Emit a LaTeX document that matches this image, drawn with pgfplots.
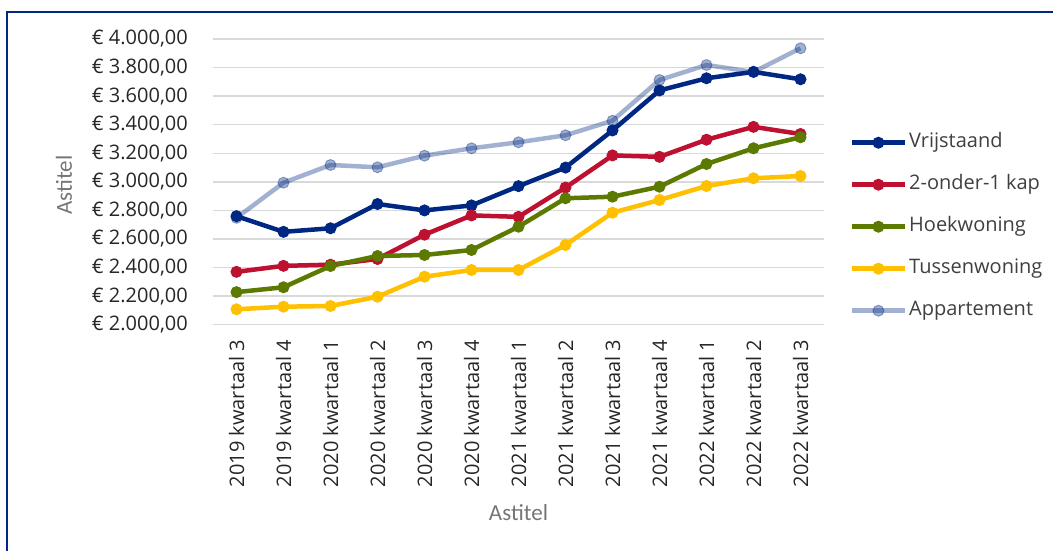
\documentclass[border=0pt]{standalone}
\usepackage{pgfplots}
\pgfplotsset{compat=1.18}
\usepackage{pgfplotstable}
\usepackage{fontspec}
\setmainfont{Open Sans}
\newfontfamily\titlefont{Carlito}

\definecolor{vrij}{RGB}{0,40,130}
\definecolor{twee}{RGB}{190,16,48}
\definecolor{hoek}{RGB}{92,122,0}
\definecolor{tussen}{RGB}{255,192,0}
\definecolor{ticktext}{RGB}{38,38,38}
\definecolor{legtext}{RGB}{64,64,64}
\definecolor{titletext}{RGB}{118,118,118}
\definecolor{gridgray}{RGB}{217,217,217}

% Prijs per kwartaal (index 0 = 2019 kwartaal 3)
\pgfplotstableread{
x vrij twee hoek tussen app
0  2760 2370 2228 2108 2748
1  2650 2412 2262 2126 2994
2  2675 2420 2411 2131 3118
3  2845 2460 2481 2196 3102
4  2800 2630 2488 2336 3183
5  2835 2765 2523 2383 3235
6  2970 2755 2686 2383 3277
7  3100 2960 2885 2558 3326
8  3360 3185 2896 2784 3428
9  3640 3175 2966 2873 3713
10 3725 3295 3125 2971 3818
11 3770 3385 3235 3025 3769
12 3718 3335 3312 3041 3935
}\prijzen

\begin{document}
\begin{tikzpicture}
\path[use as bounding box, fill=white] (0pt,0pt) rectangle (1053pt,550pt);
\draw[vrij, line width=2pt] (7pt,-1pt) -- (7pt,538pt) -- (1054pt,538pt);
\begin{axis}[
  at={(213pt,225.3pt)}, anchor=south west,
  scale only axis, width=611pt, height=285.7pt,
  xmin=-0.5, xmax=12.5, ymin=2000, ymax=4000,
  xtick={0,...,12},
  xticklabels={2019 kwartaal 3,2019 kwartaal 4,2020 kwartaal 1,2020 kwartaal 2,2020 kwartaal 3,2020 kwartaal 4,2021 kwartaal 1,2021 kwartaal 2,2021 kwartaal 3,2021 kwartaal 4,2022 kwartaal 1,2022 kwartaal 2,2022 kwartaal 3},
  ytick distance=200,
  scaled y ticks=false,
  axis line style={draw=none},
  major tick length=0pt,
  ymajorgrids, grid style={gridgray, line width=1.3pt},
  /pgf/number format/fixed,
  /pgf/number format/fixed zerofill,
  /pgf/number format/precision=2,
  /pgf/number format/use comma,
  /pgf/number format/1000 sep={.},
  /pgf/number format/assume math mode=true,
  yticklabel={€ \pgfmathprintnumber{\tick}},
  ticklabel style={font=\fontsize{20}{24}\selectfont, text=ticktext},
  yticklabel style={anchor=east, inner sep=0pt, xshift=-25pt},
  xticklabel style={yshift=-15pt, rotate=90, anchor=east, inner sep=0pt},
  xlabel={Astitel}, ylabel={Astitel},
  every axis x label/.style={at={(axis description cs:0.5,-0.656)}, anchor=center,
    font=\titlefont\fontsize{23}{27}\selectfont, text=titletext},
  every axis y label/.style={at={(axis description cs:-0.244,0.489)}, rotate=90, anchor=center,
    font=\titlefont\fontsize{23}{27}\selectfont, text=titletext},
  every axis plot/.append style={line width=4.5pt, mark=*, mark size=5.5pt, mark options={line width=1pt}},
  legend cell align=left,
  legend image code/.code={\draw[mark repeat=2, mark phase=2, #1] plot coordinates {(0pt,0pt) (26.5pt,0pt) (53pt,0pt)};},
  legend style={draw=none, fill=none, inner sep=0pt, outer sep=0pt,
    at={(axis description cs:1.042,0.6755)}, anchor=north west,
    font=\fontsize{20}{24}\selectfont, text=legtext,
    nodes={inner sep=2pt, text height=14pt, text depth=4pt},
    row sep=20pt, column sep=0pt},
]
\addplot[vrij] table[x=x, y=vrij] {\prijzen};
\addlegendentry{Vrijstaand}
\addplot[twee] table[x=x, y=twee] {\prijzen};
\addlegendentry{2-onder-1 kap}
\addplot[hoek] table[x=x, y=hoek] {\prijzen};
\addlegendentry{Hoekwoning}
\addplot[tussen] table[x=x, y=tussen] {\prijzen};
\addlegendentry{Tussenwoning}
\addplot[vrij, opacity=0.36] table[x=x, y=app] {\prijzen};
\addlegendentry{Appartement}
\end{axis}
\end{tikzpicture}
\end{document}
